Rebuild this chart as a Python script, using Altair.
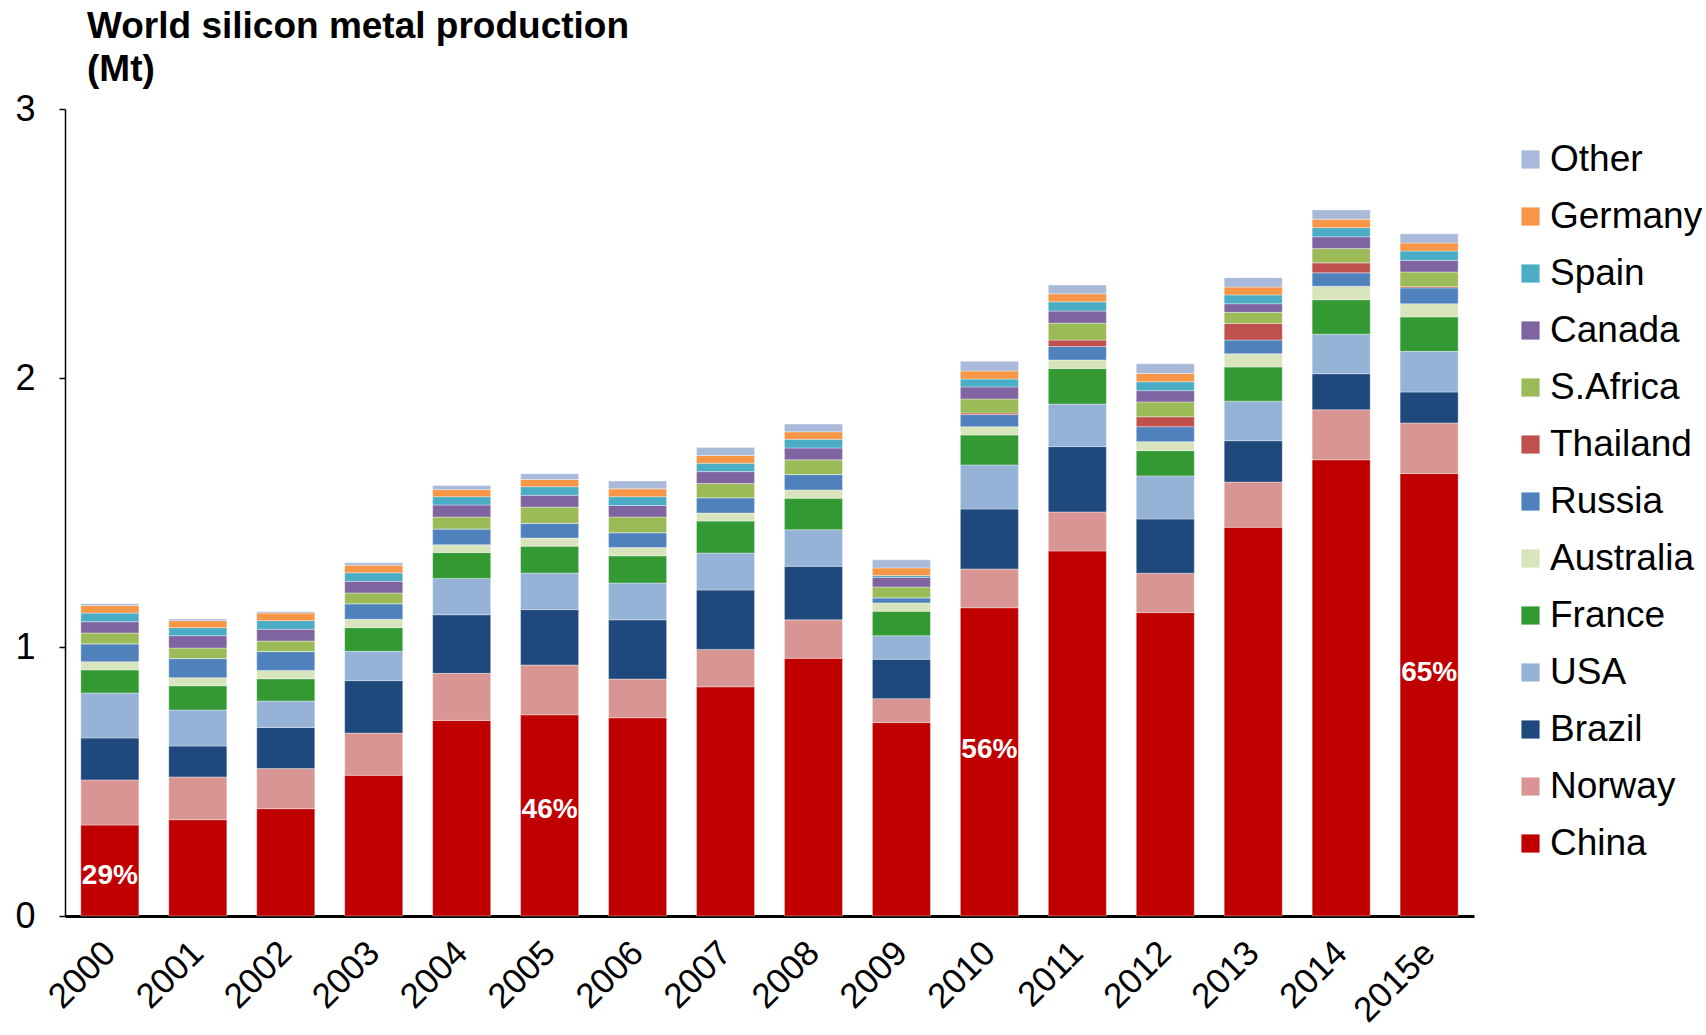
import altair as alt
import pandas as pd

years = ["2000", "2001", "2002", "2003", "2004", "2005", "2006", "2007",
         "2008", "2009", "2010", "2011", "2012", "2013", "2014", "2015e"]

countries = ["China", "Norway", "Brazil", "USA", "France", "Australia", "Russia",
             "Thailand", "S.Africa", "Canada", "Spain", "Germany", "Other"]

colors = ["#C00000", "#D99594", "#1F497D", "#95B3D7", "#339933", "#D8E4BC", "#4F81BD",
          "#C0504D", "#9BBB59", "#8064A2", "#4BACC6", "#F79646", "#A9B9D9"]

china     = [0.338, 0.358, 0.399, 0.523, 0.727, 0.748, 0.737, 0.852, 0.958, 0.719, 1.146, 1.357, 1.128, 1.445, 1.696, 1.645]
norway    = [0.168, 0.159, 0.149, 0.157, 0.175, 0.185, 0.144, 0.139, 0.143, 0.089, 0.144, 0.145, 0.146, 0.168, 0.186, 0.188]
brazil    = [0.156, 0.115, 0.153, 0.195, 0.218, 0.206, 0.220, 0.221, 0.199, 0.146, 0.223, 0.243, 0.202, 0.154, 0.134, 0.115]
usa       = [0.167, 0.134, 0.098, 0.109, 0.135, 0.136, 0.137, 0.137, 0.136, 0.088, 0.164, 0.158, 0.160, 0.147, 0.147, 0.151]
france    = [0.086, 0.090, 0.083, 0.088, 0.096, 0.100, 0.101, 0.119, 0.117, 0.091, 0.111, 0.132, 0.094, 0.127, 0.128, 0.128]
australia = [0.030, 0.030, 0.031, 0.031, 0.029, 0.030, 0.031, 0.030, 0.031, 0.031, 0.031, 0.032, 0.033, 0.049, 0.050, 0.049]
russia    = [0.067, 0.071, 0.070, 0.058, 0.059, 0.055, 0.055, 0.057, 0.057, 0.019, 0.045, 0.050, 0.056, 0.051, 0.050, 0.059]
thailand  = [0.0, 0.0, 0.0, 0.0, 0.0, 0.0, 0.0, 0.0, 0.0, 0.0, 0.006, 0.024, 0.037, 0.062, 0.037, 0.004]
safrica   = [0.040, 0.039, 0.039, 0.040, 0.044, 0.060, 0.058, 0.053, 0.055, 0.040, 0.052, 0.063, 0.055, 0.041, 0.053, 0.055]
canada    = [0.042, 0.046, 0.044, 0.043, 0.045, 0.044, 0.043, 0.044, 0.044, 0.036, 0.045, 0.045, 0.042, 0.032, 0.044, 0.043]
spain     = [0.032, 0.030, 0.032, 0.032, 0.031, 0.032, 0.033, 0.031, 0.032, 0.007, 0.029, 0.034, 0.033, 0.033, 0.034, 0.035]
germany   = [0.028, 0.026, 0.028, 0.028, 0.026, 0.027, 0.029, 0.029, 0.028, 0.028, 0.030, 0.030, 0.031, 0.029, 0.031, 0.030]
other     = [0.007, 0.006, 0.005, 0.009, 0.015, 0.021, 0.029, 0.030, 0.029, 0.030, 0.036, 0.033, 0.036, 0.035, 0.035, 0.034]

series = [china, norway, brazil, usa, france, australia, russia,
          thailand, safrica, canada, spain, germany, other]

label_years = ["2000", "2005", "2010", "2015e"]
label_texts = ["29%", "46%", "56%", "65%"]
label_pos = [0.149, 0.394, 0.617, 0.903]

rows = []
for ci, (c, vals) in enumerate(zip(countries, series)):
    for y, v in zip(years, vals):
        rows.append({"year": y, "country": c, "value": v, "idx": ci})
df = pd.DataFrame(rows)
lab = pd.DataFrame({"year": label_years, "text": label_texts, "pos": label_pos})

FONT = "Liberation Sans"

x_enc = alt.X("year:N", sort=years, title=None,
              scale=alt.Scale(paddingInner=0.34, paddingOuter=0.18),
              axis=alt.Axis(labelAngle=-45, labelFontSize=35, labelFont=FONT,
                            labelColor="black", ticks=False, domainColor="black",
                            domainWidth=3, labelPadding=31, labelAlign="right",
                            labelBaseline="middle"))

bars = alt.Chart(df).mark_bar(stroke="white", strokeWidth=1, strokeOpacity=0.35).encode(
    x=x_enc,
    y=alt.Y("value:Q", stack="zero", title=None,
            scale=alt.Scale(domain=[0, 3], nice=False),
            axis=alt.Axis(values=[0, 1, 2, 3], format="d", grid=False,
                          labelFontSize=36, labelFont=FONT, labelColor="black",
                          tickSize=6, tickColor="black", tickWidth=1.5,
                          domainColor="black", domainWidth=1.5, labelPadding=24)),
    color=alt.Color("country:N",
                    scale=alt.Scale(domain=countries[::-1], range=colors[::-1]),
                    legend=alt.Legend(title=None, orient="none", legendX=1447, legendY=32,
                                      symbolType="square", symbolSize=330,
                                      symbolStrokeWidth=0, labelFontSize=37,
                                      labelFont=FONT, labelColor="black",
                                      rowPadding=19, labelOffset=1,
                                      labelLimit=300)),
    order=alt.Order("idx:Q", sort="ascending"),
)

texts = alt.Chart(lab).mark_text(color="white", fontSize=28, fontWeight="bold",
                                 font=FONT).encode(
    x=alt.X("year:N", sort=years),
    y=alt.Y("pos:Q"),
    text="text:N",
)

chart = alt.layer(bars, texts).properties(
    width=1409, height=807,
    autosize=alt.AutoSizeParams(type="none"),
    padding={"left": 65, "top": 109, "right": 232, "bottom": 119},
    title=alt.TitleParams(["World silicon metal production", "(Mt)"],
                          anchor="start", frame="group", dx=22, offset=2,
                          fontSize=37, font=FONT, fontWeight="bold",
                          lineHeight=43, color="black"),
).configure_view(stroke=None)

chart.save("out.html", embed_options={"renderer": "svg", "actions": False})
